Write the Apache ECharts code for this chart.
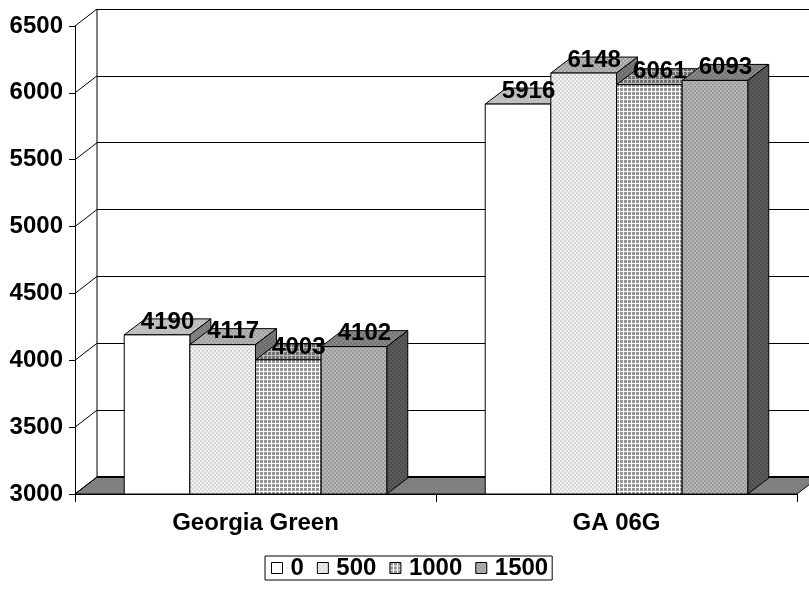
<!DOCTYPE html>
<html>
<head>
<meta charset="utf-8">
<script src="https://cdn.jsdelivr.net/npm/echarts@6/dist/echarts.min.js"></script>
<style>
  html, body { margin: 0; padding: 0; background: #ffffff; }
  #chart { width: 809px; height: 591px; }
</style>
</head>
<body>
<div id="chart"></div>
<script>
// ---- data ----
const categories = ['Georgia Green', 'GA 06G'];
const seriesNames = ['0', '500', '1000', '1500'];
const values0 = [4190, 5916];
const values500 = [4117, 6148];
const values1000 = [4003, 6061];
const values1500 = [4102, 6093];
const yTicks = [3000, 3500, 4000, 4500, 5000, 5500, 6000, 6500];

const seriesValues = [values0, values500, values1000, values1500];

// ---- look ----
const FONT = '"Liberation Sans", Arial, sans-serif';
const FONT_SIZE = 24;
const GAP_RATIO = 1.5;          // gap between clusters, relative to one bar width
const WALL_DX = 22, WALL_DY = 17;   // depth of the floor / walls
const BAR_DX = 21, BAR_DY = 16;     // depth of each column
const TOP_SHADE = 0.75, SIDE_SHADE = 0.5;

// fill specs for the front face of each series
const fillSpecs = [
  { type: 'solid', c: [255, 255, 255] },
  { type: 'checker', c1: [242, 242, 242], c2: [214, 214, 214] },
  { type: 'grid', c1: [150, 150, 150], c2: [255, 255, 255] },
  { type: 'checker', c1: [182, 182, 182], c2: [156, 156, 156] }
];

function rgb(c, f) {
  return 'rgb(' + c.map(v => Math.round(v * f)).join(',') + ')';
}

function makeFill(spec, f) {
  if (spec.type === 'solid') return rgb(spec.c, f);
  const cv = document.createElement('canvas');
  const ctx = cv.getContext('2d');
  cv.width = 4; cv.height = 4;
  ctx.fillStyle = rgb(spec.c1, f);
  ctx.fillRect(0, 0, 4, 4);
  ctx.fillStyle = rgb(spec.c2, f);
  if (spec.type === 'checker') {
    ctx.fillRect(0, 0, 2, 2);
    ctx.fillRect(2, 2, 2, 2);
  } else {
    ctx.fillRect(3, 0, 1, 4);
    ctx.fillRect(0, 3, 4, 1);
  }
  return { image: cv, repeat: 'repeat' };
}

const fills = fillSpecs.map(s => ({
  front: makeFill(s, 1),
  top: makeFill(s, TOP_SHADE),
  side: makeFill(s, SIDE_SHADE)
}));

const yMin = yTicks[0];
const yMax = yTicks[yTicks.length - 1];
const yStep = yTicks[1] - yTicks[0];

// geometry of one column in the cluster
function barGeom(api, catIdx, value, sIdx) {
  const base = api.coord([catIdx, yMin]);
  const top = api.coord([catIdx, value]);
  const band = api.size([1, 0])[0];
  const w = band / (seriesNames.length + GAP_RATIO);
  const x0 = base[0] - w * seriesNames.length / 2 + sIdx * w;
  return { x0: x0, x1: x0 + w, w: w, yb: base[1], yt: top[1] };
}

function barRenderer(sIdx) {
  return function (params, api) {
    const g = barGeom(api, api.value(0), api.value(1), sIdx);
    const f = fills[sIdx];
    const dx = BAR_DX, dy = BAR_DY;
    return {
      type: 'group',
      children: [
        {
          type: 'polygon',
          shape: { points: [[g.x0, g.yt], [g.x1, g.yt], [g.x1 + dx, g.yt - dy], [g.x0 + dx, g.yt - dy]] },
          style: { fill: f.top, stroke: '#000', lineWidth: 1 }
        },
        {
          type: 'polygon',
          shape: { points: [[g.x1, g.yt], [g.x1 + dx, g.yt - dy], [g.x1 + dx, g.yb - dy], [g.x1, g.yb]] },
          style: { fill: f.side, stroke: '#000', lineWidth: 1 }
        },
        {
          type: 'rect',
          shape: { x: g.x0, y: g.yt, width: g.w, height: g.yb - g.yt },
          style: { fill: f.front, stroke: '#000', lineWidth: 1 }
        }
      ]
    };
  };
}

// value labels sit above the top face of each column
const labelData = [];
seriesValues.forEach((vals, s) => vals.forEach((v, c) => labelData.push([c, v, s])));

function labelRenderer(params, api) {
  const s = api.value(2);
  const v = api.value(1);
  const g = barGeom(api, api.value(0), v, s);
  return {
    type: 'text',
    style: {
      text: String(v),
      x: g.x0 + g.w / 2 + BAR_DX / 2,
      y: g.yt - BAR_DY / 2 - 5,
      align: 'center',
      verticalAlign: 'middle',
      fill: '#000',
      font: 'bold ' + FONT_SIZE + 'px ' + FONT
    }
  };
}

// floor, left wall depth lines and back-wall edge
function frameRenderer(params, api) {
  const cs = params.coordSys;
  const left = cs.x, right = cs.x + cs.width;
  const yb = api.coord([0, yMin])[1];
  const yt = api.coord([0, yMax])[1];
  const children = [
    {
      type: 'polygon',
      shape: { points: [[left, yb], [right, yb], [right + WALL_DX, yb - WALL_DY], [left + WALL_DX, yb - WALL_DY]] },
      style: { fill: '#808080', stroke: '#000', lineWidth: 1 }
    },
    {
      type: 'line',
      shape: { x1: left + WALL_DX, y1: yb - WALL_DY, x2: right + WALL_DX, y2: yb - WALL_DY },
      style: { stroke: '#000', lineWidth: 2 }
    },
    {
      type: 'line',
      shape: { x1: left + WALL_DX, y1: yt - WALL_DY, x2: left + WALL_DX, y2: yb - WALL_DY },
      style: { stroke: '#000', lineWidth: 1 }
    }
  ];
  yTicks.forEach(t => {
    const y = api.coord([0, t])[1];
    children.push({
      type: 'line',
      shape: { x1: left, y1: y, x2: left + WALL_DX, y2: y - WALL_DY },
      style: { stroke: '#000', lineWidth: 1 }
    });
  });
  return { type: 'group', children: children };
}

const chart = echarts.init(document.getElementById('chart'), null, { renderer: 'canvas' });

const textStyle = { fontFamily: FONT, fontWeight: 'bold', fontSize: FONT_SIZE, color: '#000' };

const series = [
  {
    type: 'custom',
    name: 'frame',
    xAxisIndex: 0, yAxisIndex: 0,
    z: 1,
    silent: true,
    renderItem: frameRenderer,
    data: [[0, yMin]]
  }
];
seriesNames.forEach((name, i) => {
  series.push({
    type: 'custom',
    name: name,
    xAxisIndex: 0, yAxisIndex: 0,
    z: 10 + i,
    itemStyle: { color: fills[i].front, borderColor: '#000', borderWidth: 1 },
    renderItem: barRenderer(i),
    data: seriesValues[i].map((v, c) => [c, v])
  });
});
series.push({
  type: 'custom',
  name: 'labels',
  xAxisIndex: 0, yAxisIndex: 0,
  z: 30,
  silent: true,
  renderItem: labelRenderer,
  data: labelData
});

chart.setOption({
  animation: false,
  backgroundColor: '#ffffff',
  textStyle: { fontFamily: FONT },
  grid: [
    { left: 75, right: 12, top: 26, bottom: 97 },
    { left: 75 + WALL_DX, right: 12 - WALL_DX, top: 26 - WALL_DY, bottom: 97 + WALL_DY }
  ],
  xAxis: [
    {
      type: 'category', gridIndex: 0, data: categories,
      axisLine: { show: true, lineStyle: { color: '#000', width: 1 } },
      axisTick: { show: true, length: 8, lineStyle: { color: '#000' } },
      axisLabel: Object.assign({ margin: 17 }, textStyle),
      splitLine: { show: false }
    },
    {
      type: 'category', gridIndex: 1, data: categories,
      show: false
    }
  ],
  yAxis: [
    {
      type: 'value', gridIndex: 0, min: yMin, max: yMax, interval: yStep,
      axisLine: { show: true, lineStyle: { color: '#000', width: 1 } },
      axisTick: { show: true, length: 6, lineStyle: { color: '#000' } },
      axisLabel: Object.assign({ margin: 12, formatter: v => String(v) }, textStyle),
      splitLine: { show: false }
    },
    {
      type: 'value', gridIndex: 1, min: yMin, max: yMax, interval: yStep,
      axisLine: { show: false },
      axisTick: { show: false },
      axisLabel: { show: false },
      splitLine: { show: true, lineStyle: { color: '#000', width: 1 } }
    }
  ],
  legend: {
    data: seriesNames.map((n, i) => ({
      name: n,
      icon: 'rect',
      itemStyle: { color: fills[i].front, borderColor: '#000', borderWidth: 1 }
    })),
    left: 265,
    top: 556,
    orient: 'horizontal',
    itemWidth: 11,
    itemHeight: 11,
    itemGap: 13,
    padding: [0, 4, 0, 6],
    borderColor: '#000',
    borderWidth: 1,
    selectedMode: false,
    textStyle: Object.assign({ padding: [0, 0, 0, 3] }, textStyle)
  },
  series: series
});
</script>
</body>
</html>
